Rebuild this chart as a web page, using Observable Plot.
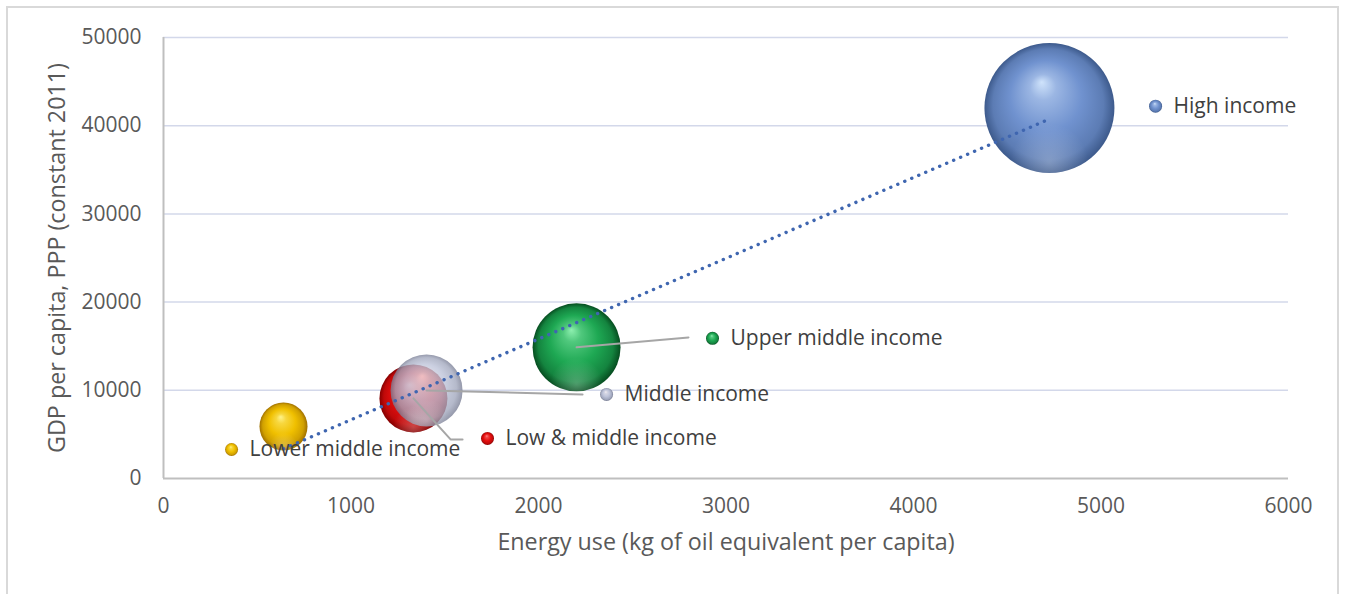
<!DOCTYPE html>
<html>
<head>
<meta charset="utf-8">
<script src="https://cdn.jsdelivr.net/npm/d3@7"></script>
<script src="https://cdn.jsdelivr.net/npm/@observablehq/plot@0.6"></script>
<style>
  html, body { margin: 0; padding: 0; background: #ffffff; }
  #wrap { position: relative; width: 1345px; height: 594px; overflow: hidden; }
  #border { position: absolute; left: 6px; top: 6px; width: 1333px; height: 620px;
            border: 2px solid #d9d9d9; box-sizing: border-box; pointer-events: none; }
</style>
</head>
<body>
<div id="wrap"><div id="border"></div></div>
<script>
// Income groups, drawn in this order (later groups sit on top)
const groups     = ["High income", "Upper middle income", "Low & middle income", "Middle income", "Lower middle income"];
const keys       = ["high", "upper", "lowmid", "middle", "lower"];
// Energy use (kg of oil equivalent per capita)
const energyUse  = [4725, 2203, 1333, 1403, 640];
// GDP per capita, PPP (constant 2011 international $)
const gdpPerCap  = [42000, 14870, 9080, 9990, 5900];
// Bubble size value
const bubbleSize = [4225, 1936, 1156, 1296, 576];

// Label anchor points (data units) for each group's marker + name
const labelX = [5291, 2928, 1728, 2363, 363];
const labelY = [42210, 15890, 4540, 9530, 3290];

// Leader lines from a bubble to its label: [group key, x, y]
const leaderPts = [
  ["upper", 2203, 14870], ["upper", 2800, 16000],
  ["middle", 1403, 9990], ["middle", 2235, 9530],
  ["lowmid", 1333, 9080], ["lowmid", 1531, 4430], ["lowmid", 1595, 4430]
];

const xTicks = [0, 1000, 2000, 3000, 4000, 5000, 6000];
const yTicks = [0, 10000, 20000, 30000, 40000, 50000];

// Sphere shading: highlight, body, edge shadow
const sphereColors = {
  high:   ["#cfe3fb", "#7092cf", "#3d5a8c"],
  upper:  ["#8ef0b0", "#1ea853", "#064d20"],
  lowmid: ["#ff8a8a", "#e60f0f", "#840000"],
  middle: ["#f3eef3", "#bcc2d8", "#767b92"],
  lower:  ["#fff38a", "#f0c000", "#a07000"]
};

const rows = groups.map((g, i) => ({
  group: g, key: keys[i], x: energyUse[i], y: gdpPerCap[i], size: bubbleSize[i]
}));
const labels = groups.map((g, i) => ({ group: g, key: keys[i], x: labelX[i], y: labelY[i] }));
const leaders = leaderPts.map(([key, x, y]) => ({ key, x, y }));

const font = "'Open Sans', 'Noto Sans', sans-serif";

const chart = Plot.plot({
  width: 1345,
  height: 594,
  marginLeft: 163,
  marginRight: 57,
  marginTop: 37,
  marginBottom: 116,
  style: { fontFamily: font, color: "#595959", background: "transparent" },
  x: { domain: [0, 6000] },
  y: { domain: [0, 50000] },
  r: { type: "sqrt", domain: [0, 4225], range: [0, 65] },
  color: { type: "identity" },
  marks: [
    Plot.gridY(yTicks.filter(d => d > 0), { stroke: "#d3d8ea", strokeOpacity: 1, strokeWidth: 1.5 }),
    Plot.ruleY([0], { stroke: "#bfbfbf", strokeWidth: 2 }),
    Plot.ruleX([0], { y1: 0, y2: 50000, stroke: "#bfbfbf", strokeWidth: 2 }),
    Plot.axisX({ ticks: xTicks, tickSize: 0, tickPadding: 20, tickFormat: d3.format("d"),
                 fontSize: 21, label: null }),
    Plot.axisY({ ticks: yTicks, tickSize: 0, tickPadding: 22, tickFormat: d3.format("d"),
                 fontSize: 21, label: null }),
    Plot.text(["Energy use (kg of oil equivalent per capita)"], {
      frameAnchor: "bottom", dy: 71, fontSize: 23.3, fill: "#595959"
    }),
    Plot.text(["GDP per capita, PPP (constant 2011)"], {
      frameAnchor: "left", dx: -106, rotate: -90, textAnchor: "middle",
      fontSize: 23.3, fill: "#595959"
    }),
    // bubbles
    Plot.dot(rows, {
      x: "x", y: "y", r: "size", sort: null,
      fill: d => `url(#sph-${d.key})`,
      fillOpacity: d => d.key === "middle" ? 0.78 : 1,
      stroke: "none"
    }),
    Plot.dot(rows, {
      x: "x", y: "y", r: "size", sort: null,
      fill: () => "url(#sph-rim)", stroke: "none"
    }),
    // leader lines
    Plot.line(leaders, { x: "x", y: "y", z: "key", stroke: "#a6a6a6", strokeWidth: 2, curve: "linear" }),
    // linear trend
    Plot.linearRegressionY(rows, {
      x: "x", y: "y", stroke: "#3f66b0", strokeWidth: 3.4,
      strokeDasharray: "0.1 7.5", strokeLinecap: "round", ci: 0
    }),
    // label markers and names
    Plot.dot(labels, { x: "x", y: "y", r: 6.5, fill: d => `url(#sph-${d.key})`, stroke: "none" }),
    Plot.text(labels, {
      x: "x", y: "y", text: "group", dx: 18, textAnchor: "start",
      fontSize: 21, fill: "#404040"
    })
  ]
});

// sphere gradients
const svg = d3.select(chart);
const defs = svg.insert("defs", ":first-child");
for (const [key, [hi, mid, lo]] of Object.entries(sphereColors)) {
  const g = defs.append("radialGradient")
    .attr("id", `sph-${key}`)
    .attr("cx", "0.5").attr("cy", "0.5").attr("r", "0.5")
    .attr("fx", "0.44").attr("fy", "0.3");
  g.append("stop").attr("offset", "0").attr("stop-color", hi);
  g.append("stop").attr("offset", "0.2").attr("stop-color", d3.interpolateRgb(hi, mid)(0.55));
  g.append("stop").attr("offset", "0.55").attr("stop-color", mid);
  g.append("stop").attr("offset", "0.85").attr("stop-color", d3.interpolateRgb(mid, lo)(0.4));
  g.append("stop").attr("offset", "1").attr("stop-color", lo);
}
const rim = defs.append("radialGradient")
  .attr("id", "sph-rim")
  .attr("cx", "0.5").attr("cy", "0.92").attr("r", "0.5");
rim.append("stop").attr("offset", "0").attr("stop-color", "#ffffff").attr("stop-opacity", 0.25);
rim.append("stop").attr("offset", "0.6").attr("stop-color", "#ffffff").attr("stop-opacity", 0);

document.getElementById("wrap").prepend(chart);
</script>
</body>
</html>
